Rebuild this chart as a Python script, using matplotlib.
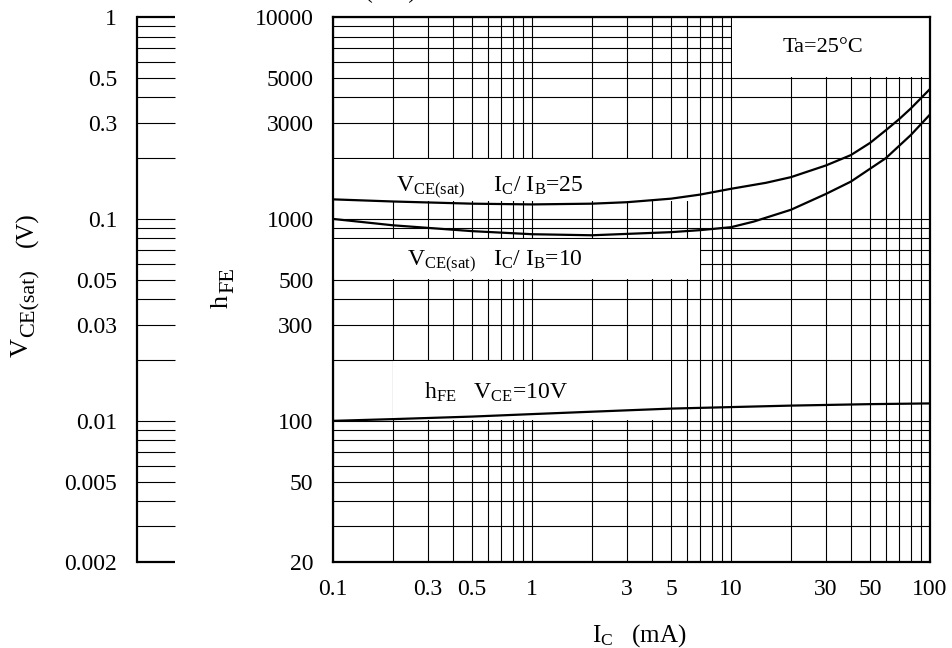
import matplotlib
matplotlib.use("Agg")
import matplotlib.pyplot as plt
from matplotlib.patches import Rectangle
from matplotlib.ticker import FixedLocator, NullFormatter

plt.rcParams['font.family'] = ['Liberation Serif', 'DejaVu Serif']
plt.rcParams['mathtext.fontset'] = 'custom'
plt.rcParams['mathtext.rm'] = 'Liberation Serif'
plt.rcParams['mathtext.it'] = 'Liberation Serif:italic'
plt.rcParams['font.size'] = 17

# h_FE vs I_C  (VCE = 10 V)
ic_hfe = [0.1, 0.2, 0.5, 1, 2, 5, 10, 20, 50, 100]
hfe = [100, 102, 105, 108, 111, 115, 117, 119, 121, 122]

# VCE(sat) vs I_C, IC/IB = 25
ic_sat25 = [0.1, 0.2, 0.5, 1, 2, 3, 5, 7, 10, 15, 20, 30, 40, 50, 60, 70, 80, 100]
vsat25 = [0.125, 0.122, 0.119, 0.118, 0.119, 0.121, 0.126, 0.132, 0.141, 0.151,
          0.161, 0.184, 0.207, 0.238, 0.275, 0.312, 0.352, 0.44]

# VCE(sat) vs I_C, IC/IB = 10
ic_sat10 = [0.1, 0.2, 0.5, 1, 2, 5, 7, 10, 13, 20, 30, 40, 60, 80, 100]
vsat10 = [0.1, 0.093, 0.087, 0.084, 0.083, 0.086, 0.088, 0.091, 0.097, 0.111,
          0.133, 0.153, 0.2, 0.26, 0.329]

x_labels = [0.1, 0.3, 0.5, 1, 3, 5, 10, 30, 50, 100]
y_labels = [20, 50, 100, 300, 500, 1000, 3000, 5000, 10000]
v_labels = [1, 0.5, 0.3, 0.1, 0.05, 0.03, 0.01, 0.005, 0.002]


def fmt(v):
    return ('%g' % v)


def log_subs(lo, hi):
    out = []
    e = -4
    while 10 ** e <= hi * 1.0001:
        for m in range(1, 10):
            v = m * 10 ** e
            if lo * 0.9999 <= v <= hi * 1.0001:
                out.append(v)
        e += 1
    return out


W, H = 952, 648
fig = plt.figure(figsize=(9.52, 6.48), dpi=100)
L, R, B, T = 333 / W, 930 / W, 1 - 562 / H, 1 - 17 / H
ax = fig.add_axes([L, B, R - L, T - B])
ax.set_xscale('log')
ax.set_yscale('log')
ax.set_xlim(0.1, 100)
ax.set_ylim(20, 10000)

ax.xaxis.set_major_locator(FixedLocator(x_labels))
ax.xaxis.set_minor_locator(FixedLocator(log_subs(0.1, 100)))
ax.yaxis.set_major_locator(FixedLocator(y_labels))
ax.yaxis.set_minor_locator(FixedLocator(log_subs(20, 10000)))
ax.set_xticklabels([fmt(v) for v in x_labels])
ax.set_yticklabels([fmt(v) for v in y_labels])
ax.xaxis.set_minor_formatter(NullFormatter())
ax.yaxis.set_minor_formatter(NullFormatter())
ax.tick_params(which='both', length=0)
ax.tick_params(axis='x', pad=12)
ax.tick_params(axis='y', pad=14)
ax.grid(True, which='both', color='black', lw=0.8)
for s in ax.spines.values():
    s.set_linewidth(1.6)

# white label boxes that hide the grid
f = 1.006
boxes = [(10, 100, 5000, 10000), (0.1, 7, 1220, 2000), (0.1, 7, 500, 800), (0.2, 5, 100, 200)]
for x0, x1, y0, y1 in boxes:
    ax.add_patch(Rectangle((x0 * f, y0 * f), x1 / f - x0 * f, y1 / f - y0 * f,
                           facecolor='white', edgecolor='none', zorder=2))

ax.plot(ic_hfe, hfe, color='black', lw=1.6, zorder=4)

ax.text(29, 7070, 'Ta=25°C', ha='center', va='center', fontsize=16, zorder=5)
ax.text(0.615, 1420, r'V$_{\mathrm{CE(sat)}}$     I$_{\mathrm{C}}$/ I$_{\mathrm{B}}$=25',
        ha='center', va='center', fontsize=17, zorder=5)
ax.text(0.652, 614, r'V$_{\mathrm{CE(sat)}}$   I$_{\mathrm{C}}$/ I$_{\mathrm{B}}$=10',
        ha='center', va='center', fontsize=17, zorder=5)
ax.text(0.663, 139, r'h$_{\mathrm{FE}}$   V$_{\mathrm{CE}}$=10V',
        ha='center', va='center', fontsize=17, zorder=5)

# VCE(sat) curves on the same frame, hidden right-hand scale
ax2 = ax.twinx()
ax2.set_yscale('log')
ax2.set_ylim(0.002, 1)
ax2.set_xlim(0.1, 100)
ax2.axis('off')
ax2.plot(ic_sat25, vsat25, color='black', lw=1.6)
ax2.plot(ic_sat10, vsat10, color='black', lw=1.6)

# separate VCE(sat) scale on the left
axv = fig.add_axes([136.5 / W, B, 0.001, T - B])
axv.set_yscale('log')
axv.set_ylim(0.002, 1)
axv.set_xticks([])
for k in ['top', 'right', 'bottom']:
    axv.spines[k].set_visible(False)
axv.spines['left'].set_linewidth(1.6)
axv.patch.set_visible(False)
axv.yaxis.set_major_locator(FixedLocator(v_labels))
axv.yaxis.set_minor_locator(FixedLocator(log_subs(0.002, 1)))
axv.set_yticklabels([fmt(v) for v in v_labels])
axv.yaxis.set_minor_formatter(NullFormatter())
axv.tick_params(which='both', direction='in', length=27, width=0.8, pad=14)
for t in axv.yaxis.get_major_ticks():
    if t.get_loc() in (1, 0.002):
        t.tick1line.set_markeredgewidth(1.6)


def ftext(px, py, s, size):
    fig.text(px / W, 1 - py / H, s, rotation=90, ha='center', va='center', fontsize=size)


# axis titles (subscripts drawn as separate, slightly smaller texts)
ftext(22, 347, 'V', 19)
ftext(30, 303, 'CE(sat)', 16)
ftext(27, 230, '(V)', 18)
ftext(222, 301, 'h', 19)
ftext(229, 280, 'FE', 16)
fig.text(639 / W, 1 - 636 / H, r'I$_{\mathrm{C}}$   (mA)', ha='center', va='center', fontsize=18)

# title, clipped at the top edge of the picture
fig.text(391 / W, 1.012, '(mA)', ha='center', va='center', fontsize=17)

fig.savefig('out.png', dpi=100)
